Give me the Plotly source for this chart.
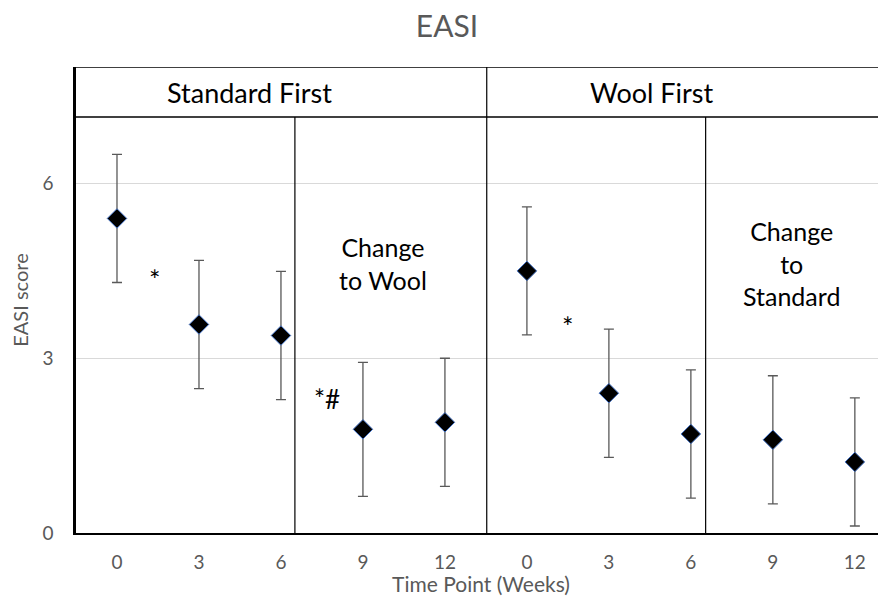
import plotly.graph_objects as go

weeks = ["0", "3", "6", "9", "12", "0", "3", "6", "9", "12"]
easi_mean = [5.4, 3.58, 3.39, 1.78, 1.9, 4.5, 2.4, 1.7, 1.6, 1.22]
easi_err = [1.1, 1.1, 1.1, 1.15, 1.1, 1.1, 1.1, 1.1, 1.1, 1.1]
group_labels = ["Standard First", "Wool First"]
phase_labels = ["Change<br>to Wool", "Change<br>to<br>Standard"]

xpos = list(range(len(weeks)))
font_main = "Lato, 'Open Sans', sans-serif"
gray = "#595959"

fig = go.Figure()
fig.add_trace(go.Scatter(
    x=xpos, y=easi_mean, mode="markers",
    marker=dict(symbol="diamond", size=15, color="black",
                line=dict(color="#4472C4", width=1)),
    error_y=dict(type="data", array=easi_err, visible=True,
                 color=gray, thickness=1.3, width=5),
    showlegend=False,
))

shapes = []
shapes.append(dict(type="line", xref="x", yref="y", x0=-0.5, x1=9.38, y0=8, y1=8,
                   line=dict(color="black", width=1.5)))
shapes.append(dict(type="line", xref="x", yref="y", x0=-0.5, x1=9.38, y0=7.14, y1=7.14,
                   line=dict(color="black", width=1.5)))
shapes.append(dict(type="line", xref="x", yref="y", x0=4.51, x1=4.51, y0=0, y1=8,
                   line=dict(color="black", width=1.2)))
shapes.append(dict(type="line", xref="x", yref="y", x0=2.17, x1=2.17, y0=0, y1=7.14,
                   line=dict(color="black", width=1.2)))
shapes.append(dict(type="line", xref="x", yref="y", x0=7.18, x1=7.18, y0=0, y1=7.14,
                   line=dict(color="black", width=1.2)))
fig.update_layout(shapes=shapes)

ann = []
ann.append(dict(x=1.62, y=7.57, text=group_labels[0], showarrow=False,
                font=dict(size=27, color="black", family=font_main)))
ann.append(dict(x=6.52, y=7.57, text=group_labels[1], showarrow=False,
                font=dict(size=27, color="black", family=font_main)))
ann.append(dict(x=3.25, y=4.63, text=phase_labels[0], showarrow=False,
                font=dict(size=25, color="black", family=font_main)))
ann.append(dict(x=8.23, y=4.63, text=phase_labels[1], showarrow=False,
                font=dict(size=25, color="black", family=font_main)))
ann.append(dict(x=0.46, y=4.35, text="*", showarrow=False,
                font=dict(size=27, color="black", family=font_main)))
ann.append(dict(x=2.56, y=2.3, text="*#", showarrow=False,
                font=dict(size=26, color="black", family=font_main)))
ann.append(dict(x=5.49, y=3.55, text="*", showarrow=False,
                font=dict(size=27, color="black", family=font_main)))
fig.update_layout(annotations=ann)

fig.update_layout(
    width=878, height=588,
    margin=dict(l=68, r=0, t=59, b=63),
    paper_bgcolor="white", plot_bgcolor="white",
    title=dict(text="EASI", x=0.5, xanchor="center", y=0.968, yanchor="middle",
               font=dict(size=30, color=gray, family=font_main)),
    font=dict(family=font_main, color=gray),
)
fig.update_xaxes(
    range=[-0.5, 9.38], tickmode="array", tickvals=xpos, ticktext=weeks,
    showgrid=False, zeroline=False, showline=True, linecolor="black", linewidth=1.5,
    tickfont=dict(size=19, color=gray), ticks="", ticklabelstandoff=11,
    title=dict(text="Time Point (Weeks)", font=dict(size=21, color=gray), standoff=8),
    automargin=False,
)
fig.update_yaxes(
    range=[0, 8], tickmode="array", tickvals=[0, 3, 6], ticktext=["0", "3", "6"],
    showgrid=True, gridcolor="#d9d9d9", gridwidth=1.3, zeroline=False,
    showline=True, linecolor="black", linewidth=2.5,
    tickfont=dict(size=19, color=gray), ticks="", ticklabelstandoff=16,
    title=dict(text="EASI score", font=dict(size=20, color=gray), standoff=10),
    automargin=False,
)

fig.write_html("out.html")
